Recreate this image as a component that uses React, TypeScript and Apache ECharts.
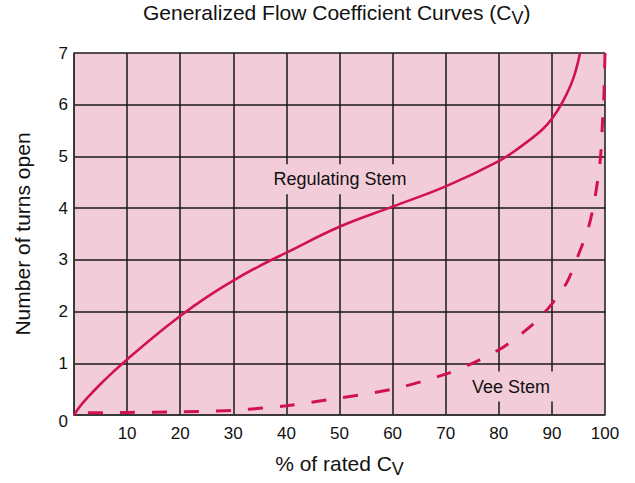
import React, { useEffect, useRef } from "react";
import * as echarts from "echarts";

// Regulating Stem curve (% of rated Cv vs number of turns open)
const regulatingPct = [0, 1, 2.5, 5, 7.5, 10, 15, 20, 25, 30, 35, 40, 50, 60, 70, 80, 84, 88, 90, 92, 94, 95.3];
const regulatingTurns = [0, 0.15, 0.33, 0.6, 0.845, 1.075, 1.51, 1.915, 2.28, 2.6, 2.885, 3.14, 3.64, 4.03, 4.42, 4.91, 5.18, 5.5, 5.73, 6.05, 6.5, 7];

// Vee Stem curve
const veePct = [0, 10, 20, 30, 40, 50, 60, 70, 75, 80, 82.5, 85, 87.5, 90, 92.8, 95, 96.9, 98.1, 99.1, 99.5, 99.8, 100];
const veeTurns = [0.04, 0.05, 0.06, 0.09, 0.18, 0.33, 0.5, 0.79, 1.0, 1.26, 1.43, 1.63, 1.86, 2.15, 2.56, 3.1, 3.63, 4.2, 4.93, 5.6, 6.2, 7];

const xTicks = [0, 10, 20, 30, 40, 50, 60, 70, 80, 90, 100];
const yTicks = [0, 1, 2, 3, 4, 5, 6, 7];

const annotationNames = ["Regulating Stem", "Vee Stem"];
const annotationPct = [50.1, 82.3];
const annotationTurns = [4.56, 0.55];

const FONT = "Liberation Sans, Arial, Helvetica, sans-serif";
const LINE = "#d1124f";
const BG = "#f3ccda";
const GRID = "#1a1a1a";

export default function App() {
  const ref = useRef<HTMLDivElement>(null);
  useEffect(() => {
    document.body.style.margin = "0";
    if (!ref.current) return;
    const chart = echarts.init(ref.current, undefined, { renderer: "svg" });
    const reg = regulatingPct.map((p, i) => [p, regulatingTurns[i]]);
    const vee = veePct.map((p, i) => [p, veeTurns[i]]);
    const subRich = {
      a: { fontSize: 21, fontFamily: FONT, color: "#111", lineHeight: 24, verticalAlign: "top", padding: [0, 0, 0, 0] },
      s: { fontSize: 18, fontFamily: FONT, color: "#111", lineHeight: 24, verticalAlign: "top", padding: [7, 0, 0, 0] },
    };
    chart.setOption({
      animation: false,
      backgroundColor: "#fff",
      title: {
        text: "{a|Generalized Flow Coefficient Curves (C}{s|V}{a|)}",
        left: 143,
        top: 2,
        padding: 0,
        textStyle: { fontSize: 21, fontFamily: FONT, fontWeight: "normal", rich: subRich },
      },
      grid: {
        left: 74,
        right: 30,
        top: 53,
        bottom: 63,
        show: true,
        backgroundColor: BG,
        borderWidth: 0,
      },
      xAxis: {
        type: "value",
        min: xTicks[0],
        max: xTicks[xTicks.length - 1],
        interval: 10,
        name: "{a|% of rated C}{s|V}",
        nameLocation: "middle",
        nameGap: 38,
        nameTextStyle: { fontSize: 21, fontFamily: FONT, rich: subRich },
        axisLine: { show: true, lineStyle: { color: "#333", width: 1.5 } },
        axisTick: { show: false },
        axisLabel: {
          fontSize: 17,
          fontFamily: FONT,
          color: "#111",
          margin: 10,
          formatter: (v: number) => (v === 0 ? "" : String(v)),
        },
        splitLine: { show: true, lineStyle: { color: GRID, width: 1.5 } },
      },
      yAxis: {
        type: "value",
        min: yTicks[0],
        max: yTicks[yTicks.length - 1],
        interval: 1,
        name: "Number of turns open",
        nameLocation: "middle",
        nameGap: 41,
        nameTextStyle: { fontSize: 21, fontFamily: FONT, color: "#111" },
        axisLine: { show: true, lineStyle: { color: "#333", width: 1.5 } },
        axisTick: { show: false },
        axisLabel: {
          fontSize: 17,
          fontFamily: FONT,
          color: "#111",
          margin: 6,
          formatter: (v: number) => (v === 0 ? "{z|0}" : String(v)),
          rich: { z: { fontSize: 17, fontFamily: FONT, color: "#111", padding: [12, 0, 0, 0] } },
        },
        splitLine: { show: true, lineStyle: { color: GRID, width: 1.5 } },
      },
      series: [
        {
          name: "Regulating Stem",
          type: "line",
          data: reg,
          smooth: 0.4,
          symbol: "none",
          lineStyle: { color: LINE, width: 2.6 },
          markPoint: {
            symbol: "circle",
            symbolSize: 1,
            itemStyle: { color: "rgba(0,0,0,0)" },
            label: {
              show: true,
              position: "inside",
              fontSize: 18,
              fontFamily: FONT,
              color: "#111",
              backgroundColor: BG,
              padding: [6, 7],
              formatter: (p: any) => p.name,
            },
            data: annotationNames.map((n, i) => ({
              name: n,
              coord: [annotationPct[i], annotationTurns[i]],
            })),
          },
        },
        {
          name: "Vee Stem",
          type: "line",
          data: vee,
          smooth: 0.3,
          symbol: "none",
          lineStyle: { color: LINE, width: 3, type: [15, 17], dashOffset: 18 },
        },
      ],
    });
    return () => chart.dispose();
  }, []);
  return <div ref={ref} style={{ width: 635, height: 483 }} />;
}
